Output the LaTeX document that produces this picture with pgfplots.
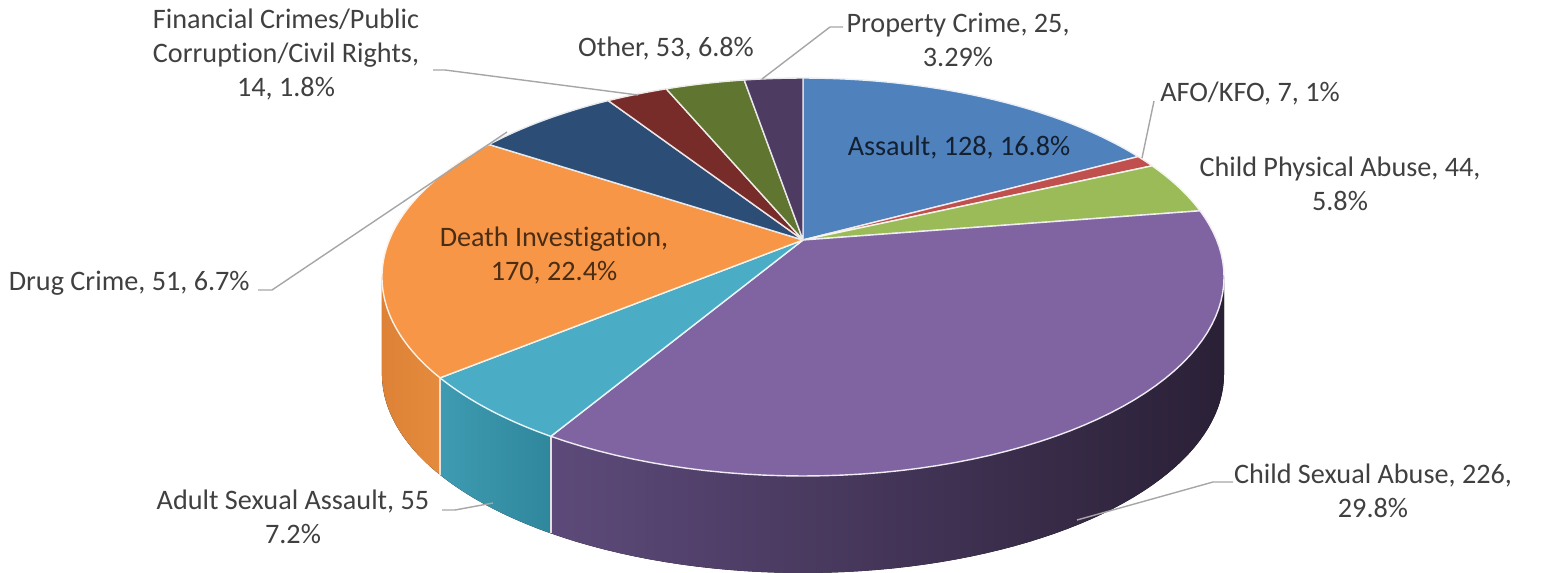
\documentclass[border=0pt]{standalone}
\usepackage{pgfplots}
\pgfplotsset{compat=1.18}
\usepackage{pgfplotstable}
\usepackage{fontspec}
\setmainfont{Carlito}[Ligatures=NoCommon]

% top-face colours
\definecolor{c0}{HTML}{4F81BD}
\definecolor{c1}{HTML}{C0504D}
\definecolor{c2}{HTML}{9BBB59}
\definecolor{c3}{HTML}{8064A2}
\definecolor{c4}{HTML}{4BACC6}
\definecolor{c5}{HTML}{F79646}
\definecolor{c6}{HTML}{2C4D75}
\definecolor{c7}{HTML}{772C2A}
\definecolor{c8}{HTML}{5F7530}
\definecolor{c9}{HTML}{4D3B62}
% wall colours (left / right)
\definecolor{wl0}{HTML}{3B6496}\definecolor{wr0}{HTML}{2F5480}
\definecolor{wl1}{HTML}{9A3E3B}\definecolor{wr1}{HTML}{7F3230}
\definecolor{wl2}{HTML}{7B9646}\definecolor{wr2}{HTML}{677E3A}
\definecolor{wl3}{HTML}{5D4A7A}\definecolor{wr3}{HTML}{2A2036}
\definecolor{wl4}{HTML}{3E9BB1}\definecolor{wr4}{HTML}{2F879C}
\definecolor{wl5}{HTML}{DD8236}\definecolor{wr5}{HTML}{E58B3D}
\definecolor{wl6}{HTML}{223C5C}\definecolor{wr6}{HTML}{1C3250}
\definecolor{wl7}{HTML}{5E2220}\definecolor{wr7}{HTML}{4E1C1A}
\definecolor{wl8}{HTML}{4B5C26}\definecolor{wr8}{HTML}{3E4C1F}
\definecolor{wl9}{HTML}{3C2E4D}\definecolor{wr9}{HTML}{302540}
\definecolor{lbl}{HTML}{404040}
\definecolor{lead}{HTML}{A6A6A6}

% slice shares (percent of the pie, clockwise from 12 o'clock)
\pgfplotstableread{
id share
0 17.17
1 1.00
2 4.33
3 36.06
4 5.53
5 20.14
6 6.61
7 2.83
8 3.64
9 2.69
}\slices

% total
\def\total{0}
\pgfplotstableforeachcolumnelement{share}\of\slices\as\v{%
  \pgfmathsetmacro\tmp{\total+\v}\xdef\total{\tmp}}
% start / end angles, visible wall ranges
\def\cum{0}
\pgfplotstableforeachcolumnelement{share}\of\slices\as\v{%
  \pgfmathsetmacro\a{360*(\cum/\total)}%
  \pgfmathsetmacro\newcum{\cum+\v}%
  \xdef\cum{\newcum}%
  \pgfmathsetmacro\b{360*(\cum/\total)}%
  \pgfmathsetmacro\ws{max(\a,100.7)}%
  \pgfmathsetmacro\we{max(min(\b,259.3),\ws)}%
  \expandafter\xdef\csname sa\pgfplotstablerow\endcsname{\a}%
  \expandafter\xdef\csname ea\pgfplotstablerow\endcsname{\b}%
  \expandafter\xdef\csname ws\pgfplotstablerow\endcsname{\ws}%
  \expandafter\xdef\csname we\pgfplotstablerow\endcsname{\we}%
}

\newcommand\lblfont{\fontsize{14.1bp}{17bp}\selectfont}

\begin{document}
\begin{tikzpicture}[
  declare function={
    px(\t)=803+413.7*sin(\t)/(1+0.186*cos(\t));
    py(\t)=240-192.1*cos(\t)/(1+0.186*cos(\t));
  }]
\begin{axis}[
  hide axis, scale only axis,
  width=771.5bp, height=286.5bp,
  xmin=0, xmax=1543, ymin=0, ymax=573, y dir=reverse,
  clip=false,
]
\path (axis cs:0,0) (axis cs:1543,573);
% walls
\pgfplotsinvokeforeach{0,...,9}{%
  \ifdim\csname we#1\endcsname pt>\csname ws#1\endcsname pt
    \fill[left color=wl#1, right color=wr#1]
      plot[variable=\t, domain=\csname ws#1\endcsname:\csname we#1\endcsname, samples=60] ({px(\t)},{py(\t)})
      -- plot[variable=\t, domain=\csname we#1\endcsname:\csname ws#1\endcsname, samples=60] ({px(\t)},{py(\t)+97})
      -- cycle;
  \fi
}
% wall separators
\pgfplotsinvokeforeach{0,...,9}{%
  \ifdim\csname sa#1\endcsname pt>100.8pt
  \ifdim\csname sa#1\endcsname pt<259.2pt
    \draw[white!85!lbl, line width=0.7bp]
      ({px(\csname sa#1\endcsname)},{py(\csname sa#1\endcsname)}) --
      ({px(\csname sa#1\endcsname)},{py(\csname sa#1\endcsname)+97});
  \fi\fi
}
% top faces
\pgfplotsinvokeforeach{0,...,9}{%
  \fill[c#1, draw=white!88!c#1, line width=0.7bp, line join=round]
    (axis cs:803,240) --
    plot[variable=\t, domain=\csname sa#1\endcsname:\csname ea#1\endcsname, samples=60] ({px(\t)},{py(\t)})
    -- cycle;
}

% leader lines
\begin{scope}[lead, line width=0.7bp]
\draw (433,70) -- (445,70) -- (638,95);
\draw (843,27) -- (830,27) -- (762,79);
\draw (1154,101) -- (1142,158);
\draw (258,290) -- (272,290) -- (507,132);
\draw (442,510) -- (455,510) -- (493,503);
\draw (1233,482) -- (1213,482) -- (1077,520);
\end{scope}

% labels
\begin{scope}[every node/.style={text=lbl, align=center, font=\lblfont, inner sep=0pt}]
\node at (286,55) {Financial Crimes/Public\\Corruption/Civil Rights,\\14, 1.8\%};
\node at (666,49) {Other, 53, 6.8\%};
\node at (958,40) {Property Crime, 25,\\3.29\%};
\node at (1250,94) {AFO/KFO, 7, 1\%};
\node at (1340,184) {Child Physical Abuse, 44,\\5.8\%};
\node[text=black!75!c0] at (959,148) {Assault, 128, 16.8\%};
\node[text=black!70!c5] at (554,256) {Death Investigation,\\170, 22.4\%};
\node[anchor=east] at (250,283) {Drug Crime, 51, 6.7\%};
\node at (1373,491) {Child Sexual Abuse, 226,\\29.8\%};
\node at (293,517) {Adult Sexual Assault, 55\\7.2\%};
\end{scope}
\end{axis}
\end{tikzpicture}
\end{document}
